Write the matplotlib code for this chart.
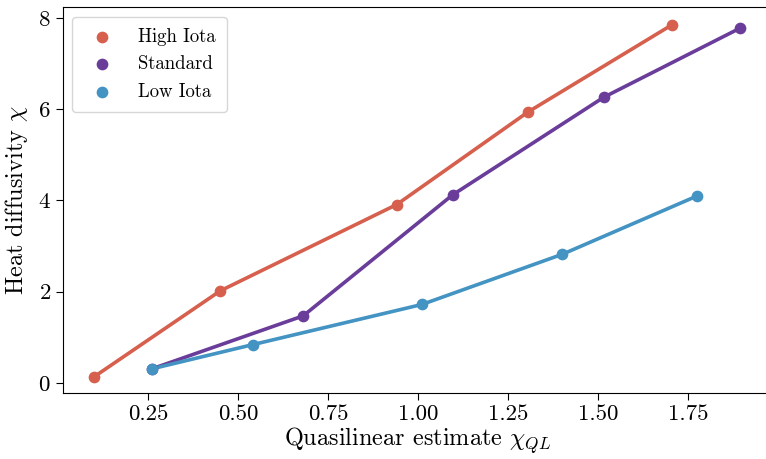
import numpy as np
import matplotlib
matplotlib.use("Agg")
import matplotlib.pyplot as plt

plt.rcParams['font.family'] = 'serif'
plt.rcParams['font.serif'] = ['cmr10', 'DejaVu Serif']
plt.rcParams['mathtext.fontset'] = 'cm'
plt.rcParams['axes.formatter.use_mathtext'] = True

# values
series_names = ["High Iota", "Standard", "Low Iota"]
series_colors = ["#d6604d", "#6a3d9a", "#4393c3"]

high_x = [0.10, 0.45, 0.94, 1.305, 1.705]
high_y = [0.14, 2.02, 3.91, 5.94, 7.85]

std_x = [0.26, 0.68, 1.095, 1.515, 1.895]
std_y = [0.31, 1.47, 4.12, 6.26, 7.78]

low_x = [0.26, 0.54, 1.01, 1.40, 1.775]
low_y = [0.31, 0.84, 1.72, 2.82, 4.10]

data = [(high_x, high_y), (std_x, std_y), (low_x, low_y)]

fig = plt.figure(figsize=(7.66, 4.59), dpi=100)
ax = fig.add_axes([0.0819, 0.1438, 0.927, 0.840])

for (xs, ys), name, col in zip(data, series_names, series_colors):
    ax.plot(xs, ys, color=col, lw=2.6, zorder=2)
    ax.scatter(xs, ys, color=col, s=55, label=name, zorder=3)

ax.set_xlim(0.012, 1.985)
ax.set_ylim(-0.22, 8.23)
ax.set_xticks([0.25, 0.50, 0.75, 1.00, 1.25, 1.50, 1.75])
ax.set_yticks([0, 2, 4, 6, 8])
ax.xaxis.set_major_formatter(matplotlib.ticker.FormatStrFormatter('%.2f'))
ax.tick_params(labelsize=16.5, length=5)

ax.set_xlabel(r"Quasilinear estimate $\chi_{QL}$", fontsize=17.5, labelpad=1)
ax.set_ylabel(r"Heat diffusivity $\chi$", fontsize=17.5, labelpad=6)

ax.legend(loc='upper left', fontsize=13.5, framealpha=0.8, edgecolor='#cccccc',
          handletextpad=0.9, borderpad=0.6, labelspacing=0.5)

fig.savefig("out.png", dpi=100)
